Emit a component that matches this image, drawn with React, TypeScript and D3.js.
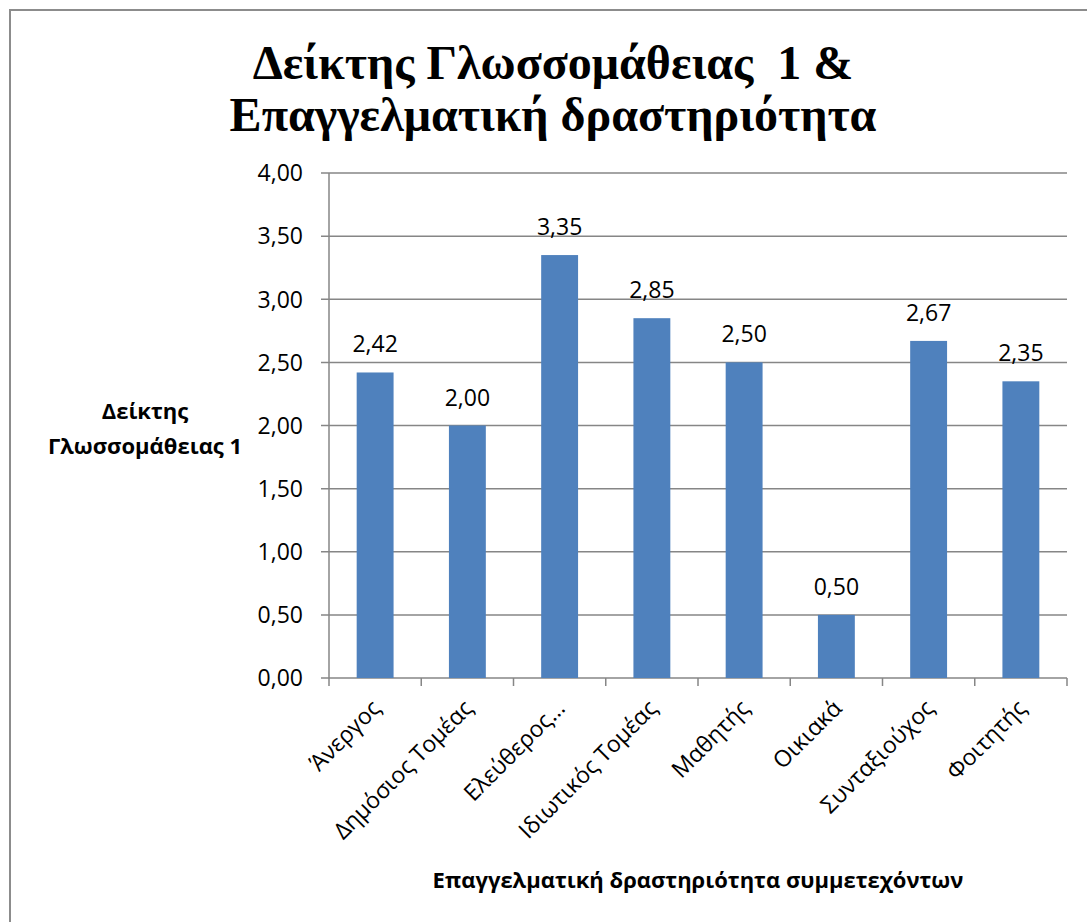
import React from "react";
import * as d3 from "d3";

const categories = [
  "Άνεργος",
  "Δημόσιος Τομέας",
  "Ελεύθερος…",
  "Ιδιωτικός Τομέας",
  "Μαθητής",
  "Οικιακά",
  "Συνταξιούχος",
  "Φοιτητής",
];
const values = [2.42, 2.0, 3.35, 2.85, 2.5, 0.5, 2.67, 2.35];
const yTicks = [0, 0.5, 1, 1.5, 2, 2.5, 3, 3.5, 4];
const titleLines = ["Δείκτης Γλωσσομάθειας  1 &", "Επαγγελματική δραστηριότητα"];
const yTitleLines = ["Δείκτης", "Γλωσσομάθειας 1"];
const xTitle = "Επαγγελματική δραστηριότητα συμμετεχόντων";

const W = 1087;
const H = 922;
const plot = { left: 329, right: 1067, top: 173, bottom: 678 };
const sans = "'Open Sans', 'Noto Sans', sans-serif";
const axisColor = "#868686";
const barColor = "#4F81BD";

const fmt = (v: number) => v.toFixed(2).replace(".", ",");

export default function App() {
  const x = d3
    .scaleBand<string>()
    .domain(categories)
    .range([plot.left, plot.right])
    .paddingInner(0.6)
    .paddingOuter(0.3);
  const band = (plot.right - plot.left) / categories.length;
  const y = d3.scaleLinear().domain([0, 4]).range([plot.bottom, plot.top]);

  return (
    <svg
      width={W}
      height={H}
      style={{ position: "fixed", left: 0, top: 0, display: "block", background: "#fff" }}
    >
      <rect x={0} y={0} width={W} height={H} fill="#fff" />
      {/* chart frame, running past the right and bottom edges */}
      <rect x={10} y={10} width={W + 20} height={H + 20} fill="none" stroke="#8c8c8c" strokeWidth={2} />

      {titleLines.map((t, i) => (
        <text
          key={t}
          x={553}
          y={79 + i * 52}
          textAnchor="middle"
          fontFamily="'Liberation Serif', 'Times New Roman', serif"
          fontWeight="bold"
          fontSize={48}
          fill="#000"
          style={{ whiteSpace: "pre" }}
        >
          {t}
        </text>
      ))}

      {/* gridlines and y ticks */}
      {yTicks.map((t) => (
        <g key={t}>
          <line x1={plot.left - 8} x2={plot.right} y1={y(t)} y2={y(t)} stroke={axisColor} strokeWidth={1.5} />
          <text
            x={303}
            y={y(t)}
            dy="0.36em"
            textAnchor="end"
            fontFamily={sans}
            fontSize={23}
            fill="#000"
          >
            {fmt(t)}
          </text>
        </g>
      ))}
      <line x1={plot.left} x2={plot.left} y1={plot.top} y2={plot.bottom} stroke={axisColor} strokeWidth={1.5} />

      {/* category ticks */}
      {d3.range(categories.length + 1).map((i) => (
        <line
          key={i}
          x1={plot.left + i * band}
          x2={plot.left + i * band}
          y1={plot.bottom}
          y2={plot.bottom + 8}
          stroke={axisColor}
          strokeWidth={1.5}
        />
      ))}

      {/* bars */}
      {categories.map((c, i) => (
        <rect
          key={c}
          x={x(c)!}
          y={y(values[i])}
          width={x.bandwidth()}
          height={plot.bottom - y(values[i])}
          fill={barColor}
        />
      ))}

      {/* value labels */}
      {categories.map((c, i) => (
        <text
          key={c}
          x={x(c)! + x.bandwidth() / 2}
          y={y(values[i]) - 20}
          textAnchor="middle"
          fontFamily={sans}
          fontSize={23}
          fill="#000"
        >
          {fmt(values[i])}
        </text>
      ))}

      {/* rotated category labels */}
      {categories.map((c) => {
        const cx = x(c)! + x.bandwidth() / 2 + 1;
        const cy = plot.bottom + 26;
        return (
          <text
            key={c}
            transform={`translate(${cx},${cy}) rotate(-45)`}
            textAnchor="end"
            dy="0.35em"
            fontFamily={sans}
            fontSize={23}
            fill="#000"
          >
            {c}
          </text>
        );
      })}

      {/* axis titles */}
      {yTitleLines.map((t, i) => (
        <text
          key={t}
          x={145}
          y={419 + i * 35}
          textAnchor="middle"
          fontFamily={sans}
          fontWeight="bold"
          fontSize={22}
          fill="#000"
        >
          {t}
        </text>
      ))}
      <text
        x={698}
        y={888}
        textAnchor="middle"
        fontFamily={sans}
        fontWeight="bold"
        fontSize={22}
        fill="#000"
      >
        {xTitle}
      </text>
    </svg>
  );
}
